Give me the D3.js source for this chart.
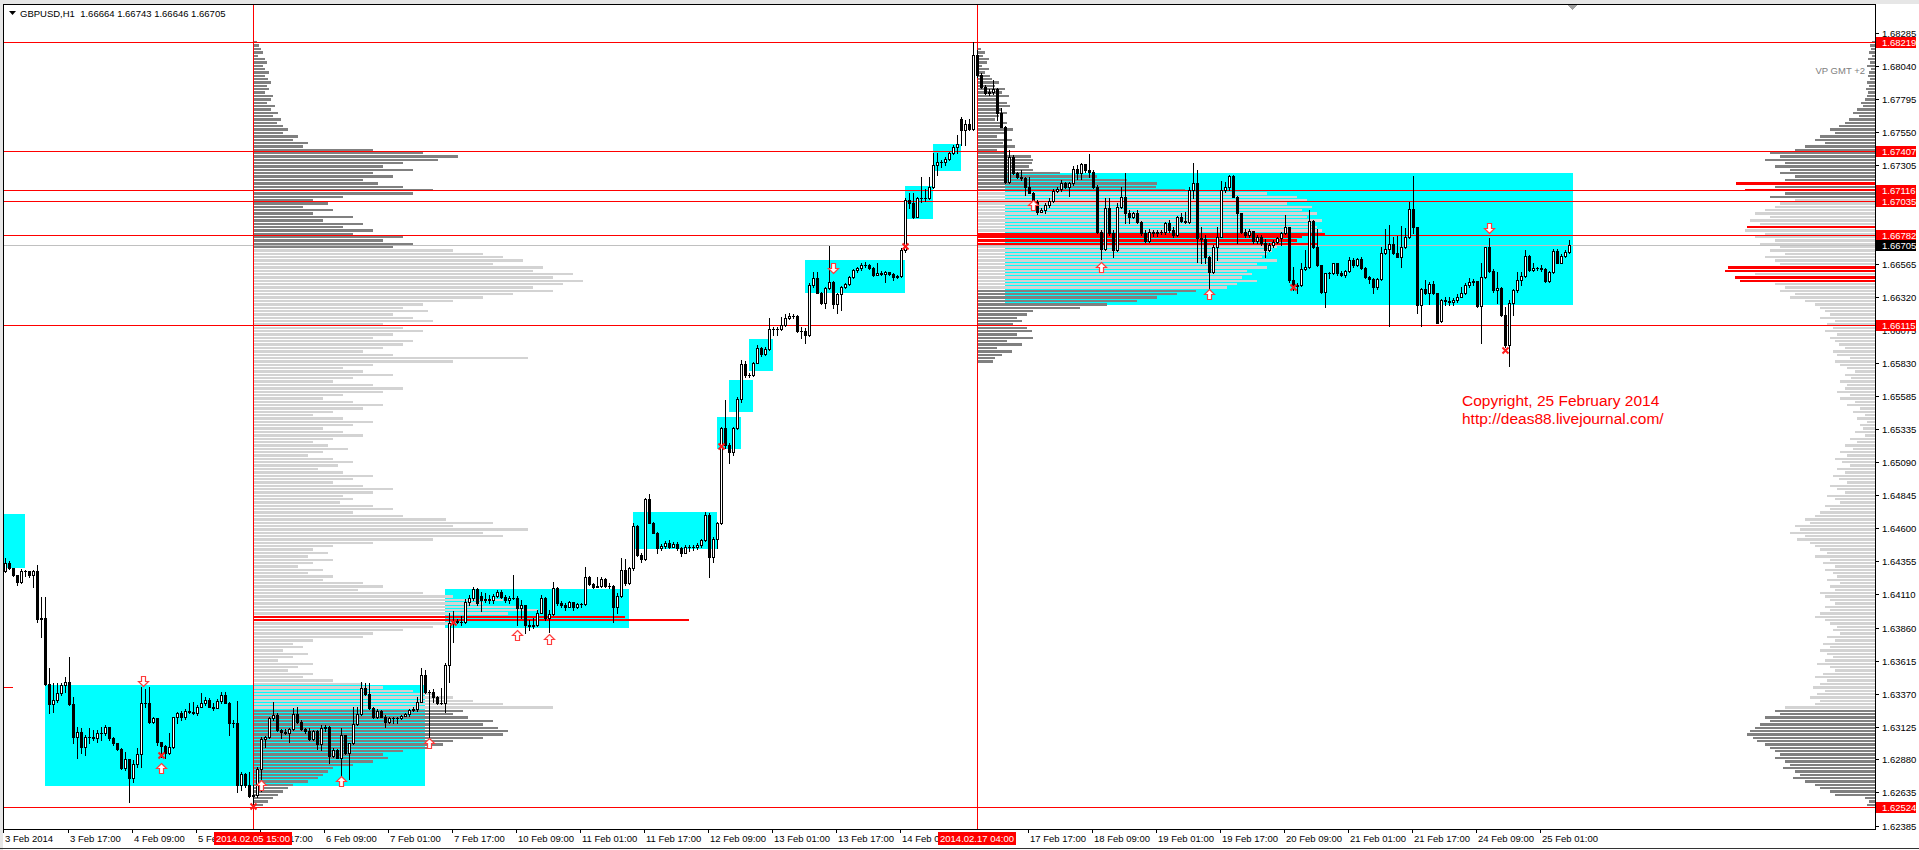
<!DOCTYPE html>
<html><head><meta charset="utf-8">
<script src="https://cdn.jsdelivr.net/npm/d3@7"></script>
<style>
html,body{margin:0;padding:0;background:#fff;overflow:hidden}
svg{display:block}
text{font-family:"Liberation Sans",Arial,sans-serif}
</style></head><body>
<svg id="c" width="1919" height="850"></svg>
<script>
// ---------------- DATA ----------------
const symbolTitle = "GBPUSD,H1";
const lastOHLC = ["1.66664","1.66743","1.66646","1.66705"];
const firstBar = 1;           // bar index of first close (index 0 = 3 Feb 2014 00:00)
const firstOpen = 1.64285;
const weekOpens = [[120,1.64096],[240,1.67642],[360,1.66145]];
const closes = [
1.64340,1.64303,1.64253,1.64203,1.64285,1.64283,1.64253,1.64283,1.63923,1.63931,
1.63440,1.63291,1.63323,1.63373,1.63435,1.63459,1.63291,1.63045,1.63087,1.62971,
1.63045,1.63045,1.63038,1.63075,1.63075,1.63120,1.63038,1.63001,1.62956,1.62815,
1.62882,1.62740,1.62844,1.62919,1.63298,1.63298,1.63162,1.63187,1.63013,1.62981,
1.62926,1.62971,1.63194,1.63224,1.63199,1.63244,1.63236,1.63224,1.63273,1.63303,
1.63323,1.63273,1.63261,1.63316,1.63360,1.63303,1.63149,1.63154,1.62691,1.62772,
1.62691,1.62611,1.62616,1.62807,1.63030,1.63045,1.63187,1.63211,1.63100,1.63087,
1.63080,1.63105,1.63216,1.63162,1.63105,1.63095,1.63030,1.63092,1.62996,1.63117,
1.63125,1.62909,1.62951,1.62894,1.63063,1.62926,1.63001,1.63144,1.63216,1.63410,
1.63368,1.63261,1.63194,1.63244,1.63199,1.63162,1.63187,1.63187,1.63187,1.63204,
1.63219,1.63249,1.63254,1.63311,1.63509,1.63385,1.63385,1.63348,1.63298,1.63298,
1.63583,1.63893,1.63913,1.63905,1.63905,1.64054,1.64079,1.64146,1.64042,1.64067,
1.64071,1.64067,1.64096,1.64129,1.64091,1.64067,1.64079,1.64084,1.64005,1.64029,
1.63881,1.63873,1.63881,1.63972,1.64079,1.63930,1.63962,1.64153,1.64042,1.64029,
1.64017,1.64054,1.64012,1.64037,1.64034,1.64235,1.64186,1.64166,1.64171,1.64220,
1.64171,1.64171,1.64012,1.64096,1.64290,1.64191,1.64302,1.64617,1.64401,1.64369,
1.64816,1.64642,1.64568,1.64451,1.64468,1.64493,1.64463,1.64483,1.64451,1.64419,
1.64463,1.64458,1.64463,1.64476,1.64513,1.64699,1.64389,1.64518,1.64637,1.65344,
1.65220,1.65170,1.65344,1.65560,1.65820,1.65741,1.65741,1.65832,1.65939,1.65894,
1.65932,1.66080,1.66080,1.66080,1.66113,1.66167,1.66180,1.66180,1.66070,1.66070,
1.66038,1.66410,1.66460,1.66353,1.66274,1.66385,1.66435,1.66269,1.66343,1.66393,
1.66418,1.66467,1.66522,1.66534,1.66559,1.66559,1.66534,1.66485,1.66497,1.66492,
1.66504,1.66492,1.66467,1.66477,1.66671,1.67042,1.67022,1.66918,1.67055,1.67055,
1.67060,1.67136,1.67303,1.67322,1.67322,1.67350,1.67389,1.67439,1.67456,1.67563,
1.67605,1.67568,1.68121,1.67972,1.67885,1.67836,1.67848,1.67866,1.67692,1.67588,
1.67179,1.67365,1.67246,1.67216,1.67203,1.67136,1.67097,1.67030,1.66955,1.66968,
1.67005,1.67037,1.67109,1.67122,1.67166,1.67136,1.67166,1.67270,1.67241,1.67308,
1.67265,1.67253,1.67136,1.66807,1.66675,1.66980,1.66794,1.66670,1.66993,1.67067,
1.66943,1.66918,1.66943,1.66881,1.66794,1.66740,1.66807,1.66799,1.66807,1.66802,
1.66869,1.66819,1.66782,1.66913,1.66888,1.66881,1.67117,1.67171,1.66757,1.66750,
1.66621,1.66509,1.66695,1.66769,1.67117,1.67141,1.67221,1.67067,1.66943,1.66807,
1.66782,1.66814,1.66740,1.66764,1.66720,1.66670,1.66705,1.66727,1.66757,1.66795,
1.66840,1.66448,1.66403,1.66408,1.66527,1.66542,1.66889,1.66696,1.66559,1.66361,
1.66497,1.66497,1.66572,1.66502,1.66485,1.66515,1.66597,1.66559,1.66602,1.66535,
1.66468,1.66453,1.66393,1.66453,1.66646,1.66676,1.66716,1.66651,1.66621,1.66691,
1.66765,1.66974,1.66840,1.66262,1.66378,1.66354,1.66418,1.66349,1.66130,1.66299,
1.66294,1.66287,1.66299,1.66324,1.66354,1.66411,1.66435,1.66440,1.66254,1.66468,
1.66691,1.66517,1.66373,1.66386,1.66187,1.65964,1.66274,1.66373,1.66448,1.66478,
1.66626,1.66522,1.66535,1.66535,1.66527,1.66443,1.66510,1.66666,1.66577,1.66626,
1.66659,1.66705];
const highs = [
1.64377,1.64357,1.64308,1.64253,1.64295,1.64290,1.64265,1.64290,1.64327,1.64092,
1.64092,1.63559,1.63447,1.63447,1.63447,1.63497,1.63645,1.63348,1.63125,1.63112,
1.63063,1.63112,1.63100,1.63100,1.63125,1.63137,1.63125,1.63045,1.63006,1.62963,
1.62934,1.62882,1.62877,1.62963,1.63422,1.63402,1.63422,1.63199,1.63187,1.63013,
1.62988,1.63075,1.63199,1.63236,1.63244,1.63254,1.63298,1.63306,1.63286,1.63373,
1.63348,1.63335,1.63298,1.63328,1.63385,1.63385,1.63311,1.63174,1.63318,1.62790,
1.62777,1.62790,1.62691,1.62827,1.63045,1.63055,1.63199,1.63311,1.63224,1.63110,
1.63105,1.63112,1.63261,1.63268,1.63174,1.63112,1.63112,1.63100,1.63100,1.63137,
1.63135,1.63130,1.62963,1.62956,1.63112,1.63063,1.63006,1.63273,1.63273,1.63459,
1.63447,1.63447,1.63268,1.63254,1.63249,1.63211,1.63194,1.63199,1.63199,1.63211,
1.63229,1.63254,1.63268,1.63348,1.63559,1.63546,1.63397,1.63402,1.63353,1.63410,
1.63596,1.63968,1.63987,1.63923,1.63946,1.64071,1.64104,1.64161,1.64153,1.64129,
1.64116,1.64104,1.64111,1.64141,1.64141,1.64104,1.64096,1.64253,1.64096,1.64067,
1.64029,1.63918,1.63930,1.63992,1.64104,1.64091,1.63992,1.64203,1.64166,1.64062,
1.64047,1.64062,1.64054,1.64047,1.64047,1.64315,1.64245,1.64191,1.64240,1.64235,
1.64228,1.64191,1.64178,1.64116,1.64377,1.64369,1.64315,1.64637,1.64625,1.64414,
1.64823,1.64855,1.64649,1.64575,1.64483,1.64508,1.64513,1.64501,1.64501,1.64458,
1.64476,1.64476,1.64476,1.64488,1.64518,1.64724,1.64711,1.64538,1.64649,1.65356,
1.65555,1.65232,1.65356,1.65579,1.65852,1.65845,1.65758,1.65840,1.65964,1.65951,
1.65946,1.66162,1.66095,1.66095,1.66175,1.66194,1.66199,1.66194,1.66187,1.66095,
1.66088,1.66423,1.66509,1.66509,1.66361,1.66398,1.66700,1.66442,1.66353,1.66403,
1.66428,1.66477,1.66527,1.66547,1.66571,1.66584,1.66566,1.66547,1.66576,1.66517,
1.66517,1.66509,1.66502,1.66485,1.66683,1.67055,1.67092,1.67092,1.67067,1.67216,
1.67122,1.67216,1.67389,1.67389,1.67340,1.67365,1.67402,1.67451,1.67526,1.67657,
1.67637,1.67642,1.68219,1.68158,1.67985,1.67898,1.67866,1.67935,1.67873,1.67724,
1.67593,1.67414,1.67377,1.67253,1.67265,1.67216,1.67216,1.67104,1.67042,1.66980,
1.67017,1.67055,1.67122,1.67136,1.67191,1.67179,1.67179,1.67295,1.67303,1.67315,
1.67278,1.67384,1.67265,1.67154,1.66819,1.67055,1.67055,1.66819,1.67017,1.67141,
1.67241,1.66968,1.66955,1.66968,1.66888,1.66819,1.66824,1.66819,1.66819,1.66819,
1.66881,1.66893,1.66844,1.66923,1.66948,1.66955,1.67141,1.67315,1.67265,1.66844,
1.66782,1.66626,1.66707,1.66844,1.67186,1.67179,1.67228,1.67228,1.67072,1.66948,
1.66824,1.66824,1.66794,1.66782,1.66782,1.66750,1.66720,1.66745,1.66769,1.66807,
1.66931,1.66845,1.66542,1.66423,1.66572,1.66671,1.66969,1.66894,1.66825,1.66559,
1.66502,1.66510,1.66577,1.66577,1.66517,1.66522,1.66616,1.66609,1.66609,1.66616,
1.66542,1.66478,1.66460,1.66460,1.66691,1.66825,1.66857,1.66770,1.66775,1.66850,
1.66832,1.67031,1.67222,1.66845,1.66386,1.66448,1.66435,1.66443,1.66354,1.66304,
1.66324,1.66324,1.66311,1.66344,1.66398,1.66423,1.66460,1.66453,1.66423,1.66572,
1.66696,1.66758,1.66527,1.66510,1.66393,1.66249,1.66299,1.66378,1.66510,1.66510,
1.66671,1.66634,1.66572,1.66547,1.66559,1.66535,1.66517,1.66676,1.66676,1.66641,
1.66671,1.66743];
const lows = [
1.64278,1.64298,1.64246,1.64179,1.64196,1.64246,1.64241,1.64166,1.63906,1.63794,
1.63435,1.63224,1.63236,1.63311,1.63360,1.63385,1.63286,1.63001,1.62889,1.62926,
1.62914,1.63001,1.63025,1.63013,1.63025,1.63063,1.63025,1.62988,1.62951,1.62807,
1.62802,1.62562,1.62715,1.62827,1.62827,1.63273,1.63154,1.63154,1.62988,1.62901,
1.62889,1.62921,1.62963,1.63149,1.63174,1.63179,1.63224,1.63219,1.63211,1.63268,
1.63288,1.63268,1.63249,1.63268,1.63303,1.63298,1.63063,1.63125,1.62641,1.62653,
1.62678,1.62603,1.62524,1.62603,1.62648,1.62976,1.63038,1.63174,1.63095,1.63038,
1.63070,1.63013,1.63100,1.63154,1.63100,1.63075,1.63025,1.63025,1.62956,1.62951,
1.63095,1.62852,1.62901,1.62889,1.62740,1.62921,1.62733,1.62993,1.63137,1.63211,
1.63360,1.63254,1.63187,1.63187,1.63194,1.63125,1.63154,1.63154,1.63154,1.63179,
1.63204,1.63206,1.63244,1.63244,1.63306,1.63378,1.62963,1.63311,1.63293,1.63293,
1.63236,1.63459,1.63757,1.63893,1.63881,1.63893,1.64029,1.64067,1.64029,1.63987,
1.64054,1.64047,1.64047,1.64091,1.64079,1.64054,1.64042,1.64071,1.63881,1.63930,
1.63819,1.63843,1.63856,1.63873,1.63967,1.63918,1.63831,1.63955,1.64029,1.64017,
1.63992,1.64012,1.63992,1.64005,1.64017,1.64029,1.64178,1.64153,1.64161,1.64166,
1.64161,1.64153,1.63905,1.63967,1.64091,1.64178,1.64186,1.64290,1.64394,1.64352,
1.64364,1.64637,1.64563,1.64414,1.64439,1.64451,1.64451,1.64463,1.64439,1.64394,
1.64414,1.64434,1.64439,1.64444,1.64463,1.64508,1.64240,1.64352,1.64451,1.64632,
1.65195,1.65083,1.65145,1.65336,1.65542,1.65728,1.65723,1.65733,1.65827,1.65882,
1.65889,1.65927,1.66038,1.66038,1.66075,1.66105,1.66155,1.66162,1.66063,1.66013,
1.65981,1.66031,1.66398,1.66348,1.66269,1.66237,1.66378,1.66237,1.66204,1.66224,
1.66385,1.66410,1.66460,1.66509,1.66522,1.66547,1.66527,1.66477,1.66485,1.66485,
1.66435,1.66485,1.66447,1.66460,1.66472,1.66658,1.66980,1.66906,1.66913,1.67030,
1.67037,1.67050,1.67129,1.67228,1.67290,1.67303,1.67340,1.67384,1.67394,1.67451,
1.67451,1.67563,1.67563,1.67960,1.67873,1.67831,1.67823,1.67831,1.67637,1.67583,
1.67166,1.67171,1.67236,1.67203,1.67191,1.67079,1.67092,1.67017,1.66938,1.66955,
1.66948,1.66993,1.67030,1.67104,1.67112,1.67129,1.67072,1.67154,1.67196,1.67196,
1.67253,1.67216,1.67129,1.66794,1.66601,1.66670,1.66782,1.66621,1.66665,1.66980,
1.66869,1.66869,1.66906,1.66869,1.66782,1.66732,1.66732,1.66774,1.66774,1.66789,
1.66789,1.66807,1.66769,1.66774,1.66881,1.66869,1.66869,1.67055,1.66583,1.66571,
1.66571,1.66373,1.66502,1.66596,1.66764,1.67104,1.67117,1.67062,1.66720,1.66794,
1.66769,1.66769,1.66720,1.66720,1.66707,1.66621,1.66665,1.66690,1.66720,1.66708,
1.66790,1.66435,1.66373,1.66354,1.66403,1.66522,1.66535,1.66683,1.66552,1.66349,
1.66245,1.66460,1.66492,1.66485,1.66478,1.66473,1.66510,1.66547,1.66552,1.66527,
1.66460,1.66428,1.66349,1.66378,1.66448,1.66641,1.66108,1.66641,1.66616,1.66542,
1.66683,1.66758,1.66795,1.66200,1.66108,1.66344,1.66269,1.66344,1.66125,1.66138,
1.66262,1.66262,1.66262,1.66287,1.66319,1.66344,1.66398,1.66411,1.66249,1.65977,
1.66460,1.66510,1.66361,1.66274,1.66180,1.65947,1.65808,1.66187,1.66361,1.66411,
1.66468,1.66517,1.66517,1.66522,1.66517,1.66435,1.66435,1.66502,1.66572,1.66572,
1.66616,1.66646];

// time axis labels: [bar index, text]
const timeLabels = [[0,"3 Feb 2014"],[17,"3 Feb 17:00"],[33,"4 Feb 09:00"],[49,"5 Feb 01:00"],[65,"5 Feb 17:00"],
 [81,"6 Feb 09:00"],[97,"7 Feb 01:00"],[113,"7 Feb 17:00"],[129,"10 Feb 09:00"],[145,"11 Feb 01:00"],
 [161,"11 Feb 17:00"],[177,"12 Feb 09:00"],[193,"13 Feb 01:00"],[209,"13 Feb 17:00"],[225,"14 Feb 09:00"],
 [257,"17 Feb 17:00"],[273,"18 Feb 09:00"],[289,"19 Feb 01:00"],[305,"19 Feb 17:00"],
 [321,"20 Feb 09:00"],[337,"21 Feb 01:00"],[353,"21 Feb 17:00"],[369,"24 Feb 09:00"],[385,"25 Feb 01:00"]];
const vLines = [[63,"2014.02.05 15:00"],[244,"2014.02.17 04:00"]];
const priceTicks = ["1.68285","1.68040","1.67795","1.67550","1.67305","1.66565","1.66320",
 "1.66075","1.65830","1.65585","1.65335","1.65090","1.64845","1.64600","1.64355","1.64110","1.63860",
 "1.63615","1.63370","1.63125","1.62880","1.62635","1.62385"];
const redLevels = [1.68219,1.67407,1.67116,1.67035,1.66782,1.66115,1.62524];
const bidLevel = 1.66705;
// boxes: [startBar, endBar, topPrice, bottomPrice]
const boxes = [[-10,6,1.64706,1.64303],[11,106,1.63435,1.62686],[111,157,1.64148,1.63861],
 [158,179,1.64724,1.64446],[179,185,1.65431,1.65190],[182,188,1.65703,1.65468],[187,193,1.66009,1.65773],
 [201,226,1.66596,1.66348],[226,233,1.67146,1.66901],[233,240,1.67459,1.67260],[251,393,1.67241,1.66261]];
// signal markers
const upArrows = [[40,1.62854],[65,1.62727],[85,1.62757],[107,1.63040],[129,1.63843],[137,1.63814],[258,1.67043],[275,1.66581],[302,1.66380]];
const downArrows = [[35.5,1.63427],[208,1.66499],[372,1.66799]];
const crossMarks = [[40,1.62913],[63,1.62534],[113,1.63903],[180,1.65215],[226,1.66700],[323,1.66393],[376,1.65927]];

// volume profiles: relative volume per 2.5-pip bin, bin 0 = top (1.68225) going down
const profBin = 0.00025;
const profTop = 1.68225;
const profileA = [
4,6,8,10,5,12,14,10,12,16, 12,15,18,14,16,12,20,18,14,22, 18,25,20,28,24,30,35,30,45,40,
55,50,120,170,205,185,150,130,160,120, 140,110,125,150,180,160,90,60,75,50, 80,60,100,70,110,90,120,100,150,130,
160,140,200,230,250,270,240,290,280,320, 300,330,310,280,300,260,230,200,170,150, 175,140,160,180,130,150,170,140,120,160,
150,130,110,140,275,200,120,90,110,140, 100,80,120,150,130,90,70,100,130,110, 80,60,90,120,100,70,90,110,80,60,
75,95,70,55,80,100,85,65,90,120, 100,80,110,140,120,90,100,87,120,140, 100,150,193,240,200,275,230,250,180,120,
80,60,75,55,80,60,45,70,55,80, 70,110,130,105,170,200,250,230,270,285, 255,372,436,200,180,150,120,110,60,40,
50,30,55,40,25,60,45,35,60,50, 80,110,130,160,180,200,220,250,300,210, 200,215,240,230,245,255,250,230,200,190,
175,150,130,135,120,100,80,75,70,65, 55,40,35,30,25,20,15,10];
const profileB = [
0,0,4,8,6,12,10,5,12,8, 13,15,22,18,28,25,32,20,30,33, 25,30,22,18,30,24,36,28,20,35,
26,38,20,30,54,56,55,52,56,83, 120,150,180,179,208,290,320,330,310,335, 325,340,330,345,335,340,345,348,325,320,
340,300,295,290,285,300,280,290,270,275, 265,280,260,250,219,200,180,160,130,103, 56,50,40,45,36,50,55,40,56,30,
45,20,35,25,18,16];
const profileC = [
3,5,4,6,3,7,5,8,4,6, 7,5,8,6,9,7,8,10,14,12, 18,22,16,26,30,36,45,40,55,60,
50,70,80,105,95,110,90,100,85,95, 80,90,139,100,130,90,105,80,95,100, 110,120,105,125,115,128,130,110,120,100,
115,95,105,90,110,100,95,147,150,120, 140,135,100,90,95,80,85,70,60,55, 50,45,55,40,48,42,50,38,45,40,
36,30,42,38,25,40,35,28,20,30, 24,35,28,30,38,25,35,20,28,15, 22,10,18,8,15,12,20,10,25,18,
30,22,35,28,40,33,25,38,30,42, 36,28,45,38,30,48,40,35,50,45, 55,60,70,65,80,75,85,70,78,65,
60,55,48,60,45,52,40,50,42,38, 48,35,45,40,55,50,45,40,50,45, 55,60,50,45,38,42,35,48,40,52,
45,55,48,42,50,58,45,40,52,60, 48,55,62,50,58,65,55,60,90,100, 95,110,105,115,120,125,128,122,118,110,
105,100,95,100,90,85,92,80,75,82, 70,60,55,45,40,10,6,8];
// value area (light bars) price range and point-of-control bins (red) for each profile
const profA = {start:63, dir:1, vals:profileA, va:[1.6325,1.66675], poc:[171,172]};
const profB = {start:244, dir:1, vals:profileB, va:[1.66375,1.6710], poc:[57,58,59,60]};
const profC = {start:null, dir:-1, vals:profileC, va:[1.6325,1.6705], poc:[42,44,55,67,68,70,71]};

// ---------------- DRAW ----------------
const W=1919,H=850, PL=4, PT=4, PR=1875, PB=829;
const x = d3.scaleLinear().domain([0,1]).range([1,5]);
const y = d3.scaleLinear().domain([1.62385,1.68285]).range([826,33]);
const vol = d3.scaleLinear().domain([0,100]).range([0,100]);
const svg = d3.select('#c').attr('shape-rendering','crispEdges');
svg.append('rect').attr('width',W).attr('height',H).attr('fill','#fff');
svg.append('rect').attr('width',W).attr('height',PT).attr('fill','#e6e6e6');
svg.append('rect').attr('width',3).attr('height',H).attr('fill','#e6e6e6');
svg.append('defs').append('clipPath').attr('id','pc').append('rect').attr('x',PL).attr('y',PT+1).attr('width',PR-PL).attr('height',PB-PT-1);
const g = svg.append('g').attr('clip-path','url(#pc)');
const R = v=>Math.round(v);

// boxes
g.selectAll('rect.box').data(boxes).enter().append('rect')
 .attr('x',d=>R(x(d[0]))).attr('width',d=>R(x(d[1]))-R(x(d[0])))
 .attr('y',d=>R(y(d[2]))).attr('height',d=>R(y(d[3]))-R(y(d[2])))
 .attr('fill','#00ffff');

// profiles
function drawProfile(p){
  const gp = g.append('g');
  p.vals.forEach((v,k)=>{
    if (!v) return;
    const top = profTop - k*profBin, bot = top - profBin;
    const y1 = R(y(top)), y2 = R(y(bot));
    const mid = (top+bot)/2;
    let col = (mid>=p.va[0] && mid<=p.va[1]) ? '#d3d3d3' : '#808080';
    if (p.poc.includes(k)) col = '#ff0000';
    const len = R(vol(v));
    const x0 = p.dir>0 ? R(x(p.start)) : PR-len;
    gp.append('rect').attr('x',x0).attr('y',y1).attr('width',len).attr('height',Math.max(1,y2-y1-1)).attr('fill',col);
  });
}
drawProfile(profA); drawProfile(profB); drawProfile(profC);

// horizontal lines
g.append('line').attr('x1',PL).attr('x2',PR).attr('y1',R(y(bidLevel))+0.5).attr('y2',R(y(bidLevel))+0.5).attr('stroke','#c0c0c0');
g.selectAll('line.red').data(redLevels).enter().append('line')
 .attr('x1',PL).attr('x2',PR).attr('y1',d=>R(y(d))+0.5).attr('y2',d=>R(y(d))+0.5).attr('stroke','#ff0000');
g.append('line').attr('x1',PL).attr('x2',13).attr('y1',R(y(1.63418))+0.5).attr('y2',R(y(1.63418))+0.5).attr('stroke','#ff0000');
// vertical lines
g.selectAll('line.v').data(vLines).enter().append('line')
 .attr('x1',d=>R(x(d[0]))+0.5).attr('x2',d=>R(x(d[0]))+0.5).attr('y1',PT).attr('y2',PB).attr('stroke','#ff0000');

// candles
const bars = closes.map((c,k)=>{
  const i = firstBar+k;
  let o = k===0 ? firstOpen : closes[k-1];
  const wo = weekOpens.find(w=>w[0]===i); if (wo) o = wo[1];
  return {i,o,c,h:Math.max(highs[k],o,c),l:Math.min(lows[k],o,c)};
});
const gc = g.append('g');
bars.forEach(b=>{
  const xc = R(x(b.i));
  const yh = R(y(b.h)), yl = R(y(b.l));
  gc.append('rect').attr('x',xc).attr('y',yh).attr('width',1).attr('height',Math.max(1,yl-yh+1)).attr('fill','#000');
  const yt = R(y(Math.max(b.o,b.c))), yb = R(y(Math.min(b.o,b.c)));
  const bh = Math.max(1,yb-yt+1);
  gc.append('rect').attr('x',xc-1).attr('y',yt).attr('width',3).attr('height',bh).attr('fill','#000');
  if (b.c>b.o && bh>2) gc.append('rect').attr('x',xc).attr('y',yt+1).attr('width',1).attr('height',bh-2).attr('fill','#fff');
});

// markers
const gm = g.append('g').attr('shape-rendering','auto');
upArrows.forEach(a=>{
  const cx=R(x(a[0]))+0.5, t=R(y(a[1]))+0.5;
  gm.append('path').attr('d',`M${cx},${t}L${cx+5},${t+5}L${cx+2},${t+5}L${cx+2},${t+10}L${cx-2},${t+10}L${cx-2},${t+5}L${cx-5},${t+5}Z`)
   .attr('fill','#fff').attr('stroke','#ff3c3c').attr('stroke-width',1.2);
});
downArrows.forEach(a=>{
  const cx=R(x(a[0]))+0.5, b=R(y(a[1]))+0.5;
  gm.append('path').attr('d',`M${cx},${b}L${cx+5},${b-5}L${cx+2},${b-5}L${cx+2},${b-10}L${cx-2},${b-10}L${cx-2},${b-5}L${cx-5},${b-5}Z`)
   .attr('fill','#fff').attr('stroke','#ff3c3c').attr('stroke-width',1.2);
});
crossMarks.forEach(m=>{
  const cx=R(x(m[0]))+0.5, cy=R(y(m[1]))+0.5;
  gm.append('path').attr('d',`M${cx-3},${cy-3}L${cx+3},${cy+3}M${cx+3},${cy-3}L${cx-3},${cy+3}`).attr('stroke','#ff1a1a').attr('stroke-width',2);
});

// frame
svg.append('line').attr('x1',3).attr('x2',PR).attr('y1',PT+0.5).attr('y2',PT+0.5).attr('stroke','#000');
svg.append('line').attr('x1',3.5).attr('x2',3.5).attr('y1',PT).attr('y2',PB+1).attr('stroke','#000');
svg.append('line').attr('x1',PR+0.5).attr('x2',PR+0.5).attr('y1',PT).attr('y2',PB+1).attr('stroke','#000');
svg.append('line').attr('x1',3).attr('x2',PR+1).attr('y1',PB+0.5).attr('y2',PB+0.5).attr('stroke','#000');
svg.append('line').attr('x1',0).attr('x2',W).attr('y1',848.5).attr('y2',848.5).attr('stroke','#333');
svg.append('path').attr('d','M1567,5L1577,5L1572,10Z').attr('fill','#a0a0a0');

// price axis
const ga = svg.append('g');
priceTicks.forEach(t=>{
  const yy = R(y(+t));
  ga.append('line').attr('x1',PR).attr('x2',PR+4).attr('y1',yy+0.5).attr('y2',yy+0.5).attr('stroke','#000');
  ga.append('text').attr('x',1882).attr('y',yy+3.5).attr('font-size','9.5px').attr('fill','#000').text(t);
});
function axisTag(p, bg){
  const yy = R(y(p));
  ga.append('rect').attr('x',PR+1).attr('y',yy-5).attr('width',40).attr('height',11).attr('fill',bg);
  ga.append('text').attr('x',1882).attr('y',yy+3.5).attr('font-size','9.5px').attr('fill','#fff').text(p.toFixed(5));
}
redLevels.forEach(p=>axisTag(p,'#ff0000'));
axisTag(bidLevel,'#000');

// time axis
const gt = svg.append('g');
timeLabels.forEach(t=>{
  const xx = R(x(t[0]));
  gt.append('line').attr('x1',Math.max(4,xx)-0.5).attr('x2',Math.max(4,xx)-0.5).attr('y1',PB).attr('y2',PB+4).attr('stroke','#000');
  gt.append('text').attr('x',Math.max(5,xx+1)).attr('y',842).attr('font-size','9.5px').attr('fill','#000').text(t[1]);
});
vLines.forEach(v=>{
  const xx = R(x(v[0]));
  gt.append('rect').attr('x',xx-39).attr('y',832).attr('width',78).attr('height',13).attr('fill','#ff0000');
  gt.append('text').attr('x',xx).attr('y',842).attr('text-anchor','middle').attr('font-size','9.5px').attr('fill','#fff').text(v[1]);
});

// header & texts
svg.append('path').attr('d','M9,11L16,11L12.5,15Z').attr('fill','#000').attr('shape-rendering','auto');
svg.append('text').attr('x',20).attr('y',17).attr('font-size','9.5px').attr('fill','#000').style('white-space','pre')
 .text(symbolTitle+"  "+lastOHLC.join(" "));
svg.append('text').attr('x',1865).attr('y',74).attr('text-anchor','end').attr('font-size','9.5px').attr('fill','#808080').text("VP GMT +2");
svg.append('text').attr('x',1462).attr('y',406).attr('font-size','15.5px').attr('fill','#ff0000').text("Copyright, 25 February 2014");
svg.append('text').attr('x',1462).attr('y',424).attr('font-size','15.5px').attr('fill','#ff0000').text("http://deas88.livejournal.com/");
</script>
</body></html>
